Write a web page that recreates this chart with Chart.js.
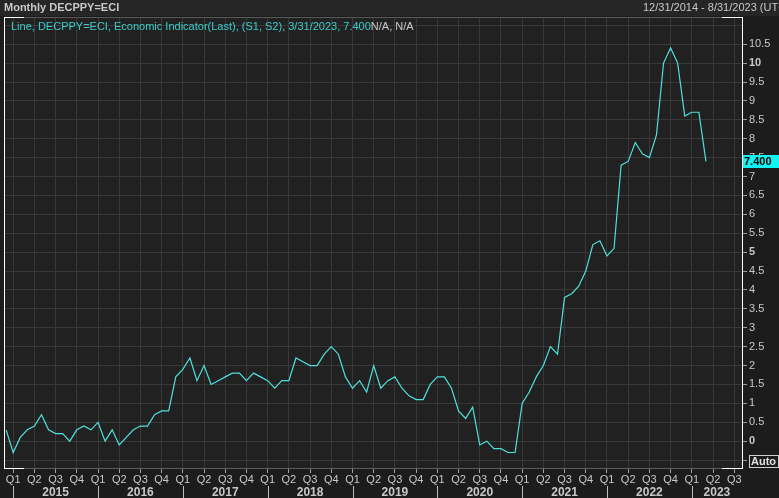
<!DOCTYPE html>
<html>
<head>
<meta charset="utf-8">
<script src="https://cdn.jsdelivr.net/npm/chart.js@4.4.1/dist/chart.umd.min.js"></script>
<style>
  html, body { margin: 0; padding: 0; background: #1d1d1d; overflow: hidden; }
  canvas { display: block; }
</style>
</head>
<body>
<canvas id="chart" width="779" height="498"></canvas>
<script>
// monthly values, Dec 2014 .. Mar 2023
const dec2014 = [0.3];
const v2015 = [-0.3, 0.1, 0.3, 0.4, 0.7, 0.3, 0.2, 0.2, 0.0, 0.3, 0.4, 0.3];
const v2016 = [0.5, 0.0, 0.3, -0.1, 0.1, 0.3, 0.4, 0.4, 0.7, 0.8, 0.8, 1.7];
const v2017 = [1.9, 2.2, 1.6, 2.0, 1.5, 1.6, 1.7, 1.8, 1.8, 1.6, 1.8, 1.7];
const v2018 = [1.6, 1.4, 1.6, 1.6, 2.2, 2.1, 2.0, 2.0, 2.3, 2.5, 2.3, 1.7];
const v2019 = [1.4, 1.6, 1.3, 2.0, 1.4, 1.6, 1.7, 1.4, 1.2, 1.1, 1.1, 1.5];
const v2020 = [1.7, 1.7, 1.4, 0.8, 0.6, 0.9, -0.1, 0.0, -0.2, -0.2, -0.3, -0.3];
const v2021 = [1.0, 1.3, 1.7, 2.0, 2.5, 2.3, 3.8, 3.9, 4.1, 4.5, 5.2, 5.3];
const v2022 = [4.9, 5.1, 7.3, 7.4, 7.9, 7.6, 7.5, 8.1, 10.0, 10.4, 10.0, 8.6];
const v2023 = [8.7, 8.7, 7.4];

const years = ['2015', '2016', '2017', '2018', '2019', '2020', '2021', '2022', '2023'];
const quarterLabels = ['Q1', 'Q2', 'Q3', 'Q4'];

const title = 'Monthly DECPPY=ECI';
const rangeText = '12/31/2014 - 8/31/2023 (UTC)';
const seriesName = 'Line, DECPPY=ECI, Economic Indicator(Last), (S1, S2), 3/31/2023, ';

const values = [].concat(dec2014, v2015, v2016, v2017, v2018, v2019, v2020, v2021, v2022, v2023);
// x = months since Jan 2015 (Dec 2014 = -1)
const points = values.map((v, i) => ({ x: i - 1, y: v }));
const lastValue = values[values.length - 1];

const quarterTicks = [];
for (let m = 0; m <= 102; m += 3) quarterTicks.push(m);

const LINE = '#4fe0dc';
const TEXT = '#c8c8c8';
const FONT = 'Liberation Sans';

Chart.defaults.font.family = FONT;
Chart.defaults.font.size = 11;
Chart.defaults.color = TEXT;

const decor = {
  id: 'decor',
  beforeDraw(chart) {
    const { ctx, chartArea: a, width, height } = chart;
    ctx.save();
    ctx.fillStyle = '#1c1c1c';
    ctx.fillRect(0, 0, width, height);
    ctx.fillStyle = '#262626';
    ctx.fillRect(0, 0, width, 16);
    ctx.fillStyle = '#212121';
    ctx.fillRect(a.left, a.top, a.right - a.left, a.bottom - a.top);
    ctx.restore();
  },
  afterDraw(chart) {
    const { ctx, chartArea: a, width, height } = chart;
    const x = chart.scales.x, y = chart.scales.y;
    ctx.save();

    // frame
    ctx.lineWidth = 1;
    ctx.strokeStyle = '#5a5a5a';
    ctx.beginPath();
    ctx.moveTo(a.left, a.top + 0.5); ctx.lineTo(a.right, a.top + 0.5);
    ctx.moveTo(a.left, a.bottom + 0.5); ctx.lineTo(a.right, a.bottom + 0.5);
    ctx.stroke();
    ctx.strokeStyle = '#ffffff';
    ctx.beginPath();
    ctx.moveTo(a.left + 0.5, a.top); ctx.lineTo(a.left + 0.5, a.bottom + 1);
    ctx.moveTo(a.right + 0.5, a.top); ctx.lineTo(a.right + 0.5, a.bottom + 1);
    ctx.moveTo(a.left, a.top + 0.5); ctx.lineTo(a.left + 20, a.top + 0.5);
    ctx.moveTo(a.right - 20, a.top + 0.5); ctx.lineTo(a.right + 1, a.top + 0.5);
    ctx.moveTo(a.left, a.bottom + 0.5); ctx.lineTo(a.left + 20, a.bottom + 0.5);
    ctx.moveTo(a.right - 20, a.bottom + 0.5); ctx.lineTo(a.right + 1, a.bottom + 0.5);
    ctx.stroke();

    // header
    ctx.textBaseline = 'middle';
    ctx.textAlign = 'left';
    ctx.fillStyle = TEXT;
    ctx.font = 'bold 11px ' + FONT;
    ctx.fillText(title, 4, 8);
    ctx.font = '11px ' + FONT;
    ctx.fillText(rangeText, 643, 8);

    // legend line
    ctx.font = '11px ' + FONT;
    ctx.fillStyle = '#3ccccc';
    const legendMain = seriesName + lastValue.toFixed(3);
    ctx.fillText(legendMain, 11, 27);
    ctx.fillStyle = TEXT;
    ctx.fillText('N/A, N/A', 11 + ctx.measureText(legendMain).width, 27);

    // year row
    ctx.font = 'bold 12px ' + FONT;
    ctx.textAlign = 'center';
    ctx.strokeStyle = '#bbbbbb';
    years.forEach((yr, k) => {
      const s = x.getPixelForValue(12 * k);
      const e = Math.min(x.getPixelForValue(12 * k + 12), a.right);
      ctx.beginPath();
      ctx.moveTo(Math.round(s) + 0.5, 486);
      ctx.lineTo(Math.round(s) + 0.5, 498);
      ctx.stroke();
      ctx.fillText(yr, (s + e) / 2, 493);
    });

    // last value tag
    const ly = Math.round(y.getPixelForValue(lastValue));
    ctx.fillStyle = '#10f4f4';
    ctx.fillRect(a.right + 1, ly - 6, width - a.right - 1, 13);
    ctx.fillStyle = '#000000';
    ctx.font = 'bold 11px ' + FONT;
    ctx.textAlign = 'left';
    ctx.fillText(lastValue.toFixed(3), a.right + 2, ly + 0.5);

    // Auto box
    ctx.fillStyle = '#1c1c1c';
    ctx.fillRect(749, 455, 30, 13);
    ctx.strokeStyle = '#cfcfcf';
    ctx.strokeRect(749.5, 455.5, 29, 12);
    ctx.fillStyle = '#e0e0e0';
    ctx.font = 'bold 11px ' + FONT;
    ctx.fillText('Auto', 751, 462);

    ctx.restore();
  }
};

new Chart(document.getElementById('chart'), {
  type: 'line',
  data: {
    datasets: [{
      label: 'DECPPY=ECI',
      data: points,
      borderColor: LINE,
      borderWidth: 1.2,
      pointRadius: 0,
      tension: 0,
      fill: false
    }]
  },
  options: {
    responsive: false,
    animation: false,
    devicePixelRatio: 1,
    layout: { padding: { left: 4, top: 17, right: 0, bottom: 0 } },
    plugins: { legend: { display: false }, tooltip: { enabled: false } },
    scales: {
      x: {
        type: 'linear',
        position: 'bottom',
        min: -1.3,
        max: 103.1,
        afterBuildTicks: s => { s.ticks = quarterTicks.map(v => ({ value: v })); },
        afterFit: s => { s.height = 30; },
        border: { display: false },
        grid: { color: '#383838', tickColor: '#a0a0a0', tickLength: 5 },
        ticks: {
          autoSkip: false,
          maxRotation: 0,
          padding: 0,
          color: TEXT,
          font: { size: 11 },
          callback: v => quarterLabels[(Math.round(v) % 12) / 3]
        }
      },
      y: {
        type: 'linear',
        position: 'right',
        min: -0.71,
        max: 11.22,
        afterFit: s => { s.width = 37; },
        border: { display: false },
        grid: {
          color: '#383838',
          tickColor: ctx => (ctx.tick && ctx.tick.value > 10.5) ? 'rgba(0,0,0,0)' : '#a0a0a0',
          tickLength: 5
        },
        ticks: {
          stepSize: 0.5,
          includeBounds: false,
          autoSkip: false,
          padding: 2,
          color: TEXT,
          font: ctx => ({ size: 11, weight: (ctx.tick && ctx.tick.value % 5 === 0) ? 'bold' : 'normal' }),
          callback: v => (v < 0 || v > 10.5) ? '' : String(v)
        }
      }
    }
  },
  plugins: [decor]
});
</script>
</body>
</html>
